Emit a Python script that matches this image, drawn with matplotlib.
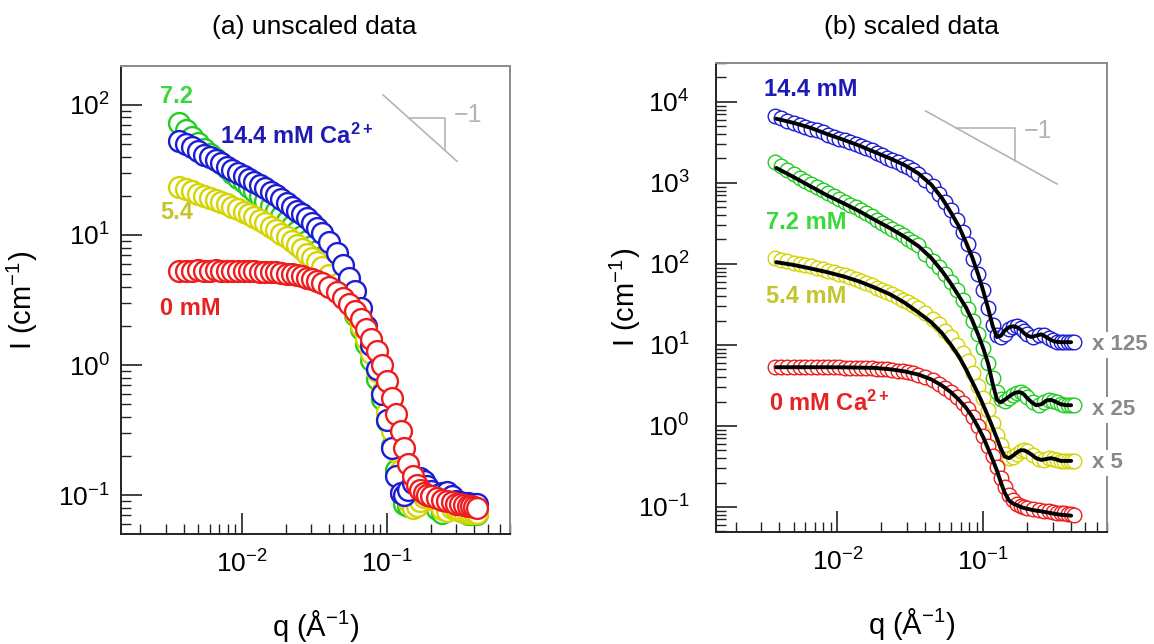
import numpy as np
import matplotlib
matplotlib.use('Agg')
import matplotlib.pyplot as plt
from matplotlib.ticker import LogLocator, NullFormatter

plt.rcParams['font.family'] = ['Liberation Sans', 'DejaVu Sans']
plt.rcParams['mathtext.fontset'] = 'custom'
plt.rcParams['mathtext.rm'] = 'Liberation Sans'
plt.rcParams['mathtext.it'] = 'Liberation Sans:italic'
plt.rcParams['mathtext.bf'] = 'Liberation Sans:bold'

# ---------------------------- data ----------------------------
Q = [0.0037, 0.0041, 0.0045, 0.0050, 0.0055, 0.0060, 0.0066, 0.0072, 0.0079, 0.0086,
     0.0094, 0.0103, 0.0112, 0.0122, 0.0133, 0.0145, 0.0158, 0.0172, 0.0187, 0.0203,
     0.0220, 0.0238, 0.0258, 0.0280, 0.0303, 0.0328, 0.0355,
     0.040, 0.045, 0.050, 0.055, 0.060, 0.066, 0.072, 0.078, 0.085, 0.092,
     0.100, 0.108, 0.116, 0.124, 0.132, 0.140, 0.150,
     0.16, 0.17, 0.18, 0.19, 0.20, 0.22, 0.24, 0.26, 0.28, 0.30,
     0.32, 0.34, 0.36, 0.38, 0.40, 0.42]

# unscaled intensities, cm^-1
I_0 = [5.3, 5.3, 5.3, 5.35, 5.3, 5.3, 5.35, 5.3, 5.3, 5.3,
       5.3, 5.3, 5.25, 5.25, 5.2, 5.2, 5.2, 5.15, 5.1, 5.05,
       5.0, 4.9, 4.8, 4.7, 4.6, 4.45, 4.3,
       4.0, 3.65, 3.3, 2.95, 2.6, 2.25, 1.9, 1.6, 1.28, 1.0,
       0.75, 0.56, 0.42, 0.31, 0.23, 0.175, 0.14,
       0.12, 0.11, 0.104, 0.1, 0.098, 0.095, 0.092, 0.09, 0.088, 0.086,
       0.085, 0.084, 0.083, 0.082, 0.081, 0.080]

I_54 = [23.5, 22.5, 21.6, 20.8, 20.0, 19.3, 18.6, 17.9, 17.2, 16.5,
        15.8, 15.1, 14.4, 13.7, 13.0, 12.3, 11.6, 10.9, 10.2, 9.6,
        9.0, 8.4, 7.8, 7.2, 6.7, 6.2, 5.7,
        4.9, 4.2, 3.6, 3.0, 2.5, 2.0, 1.6, 1.25, 0.9, 0.62,
        0.44, 0.31, 0.22, 0.155, 0.115, 0.09, 0.08,
        0.082, 0.09, 0.097, 0.1, 0.098, 0.088, 0.078, 0.076, 0.08, 0.079,
        0.076, 0.074, 0.073, 0.073, 0.073, 0.073]

I_72 = [72, 64, 57, 51, 46, 42, 38.5, 35.5, 32.5, 30,
        27.5, 25.3, 23.4, 21.6, 19.9, 18.3, 16.8, 15.4, 14.1, 12.9,
        11.8, 10.8, 9.9, 9.0, 8.2, 7.5, 6.8,
        5.3, 4.4, 3.65, 3.0, 2.42, 1.9, 1.45, 1.1, 0.78, 0.55,
        0.37, 0.24, 0.155, 0.105, 0.085, 0.082, 0.088,
        0.097, 0.103, 0.105, 0.1, 0.092, 0.078, 0.073, 0.078, 0.083, 0.082,
        0.078, 0.074, 0.072, 0.072, 0.072, 0.072]

I_144 = [53, 50, 47, 44, 41.5, 39.5, 37.5, 35.5, 33.5, 31.5,
         29.8, 28.2, 26.8, 25.4, 24.0, 22.8, 21.5, 20.2, 18.8, 17.5,
         16.4, 15.4, 14.4, 13.4, 12.4, 11.4, 10.4,
         8.8, 7.3, 5.9, 4.7, 3.7, 2.75, 2.0, 1.42, 0.93, 0.6,
         0.38, 0.23, 0.14, 0.105, 0.1, 0.11, 0.125,
         0.133, 0.135, 0.128, 0.118, 0.108, 0.1, 0.105, 0.106, 0.098, 0.091,
         0.088, 0.087, 0.087, 0.086, 0.086, 0.086]

SCALES = [1, 5, 25, 125]

# model fits, already scaled (panel b)
Q_FIT = [0.0038, 0.005, 0.0065, 0.0085, 0.011, 0.014, 0.018, 0.023, 0.029, 0.036,
         0.044, 0.052, 0.060, 0.068, 0.076, 0.084, 0.092, 0.100, 0.108, 0.116,
         0.124, 0.132, 0.140, 0.150, 0.160, 0.170, 0.180, 0.190, 0.200, 0.215,
         0.230, 0.250, 0.270, 0.290, 0.310, 0.340, 0.370, 0.400]

FIT_0 = [5.3, 5.3, 5.3, 5.3, 5.28, 5.25, 5.2, 5.0, 4.7, 4.3,
         3.75, 3.15, 2.6, 2.1, 1.68, 1.3, 0.97, 0.72, 0.52, 0.38,
         0.28, 0.2, 0.15, 0.12, 0.11, 0.105, 0.1, 0.097, 0.095, 0.092,
         0.09, 0.088, 0.086, 0.084, 0.082, 0.08, 0.079, 0.078]

FIT_54 = [105, 97, 88, 79, 70, 61, 51, 42, 33, 25,
          19, 14, 10, 7.2, 5.0, 3.5, 2.5, 1.8, 1.3, 0.95,
          0.7, 0.52, 0.42, 0.4, 0.43, 0.47, 0.5, 0.5, 0.48, 0.44,
          0.4, 0.38, 0.39, 0.4, 0.39, 0.37, 0.37, 0.37]

FIT_72 = [1530, 1180, 910, 700, 560, 450, 350, 275, 215, 165,
          118, 82, 57, 40, 29, 20, 13.5, 9, 5.8, 3.3,
          2.1, 1.95, 2.1, 2.3, 2.5, 2.6, 2.6, 2.45, 2.2, 1.95,
          1.8, 1.85, 2.05, 2.1, 2.0, 1.85, 1.8, 1.8]

FIT_144 = [6200, 5500, 4800, 4000, 3400, 2900, 2400, 2000, 1650, 1300,
           950, 650, 430, 290, 185, 120, 75, 46, 28, 17,
           12.5, 13, 15, 16.5, 17, 16.5, 15.5, 14, 13, 12.5,
           13, 13.5, 12.5, 11.5, 11, 10.8, 10.8, 10.8]

RED, YELLOW, GREEN, BLUE = '#ee1c1c', '#d4d400', '#22cc22', '#1c1cd4'
RED_T, YELLOW_T, GREEN_T, BLUE_T = '#e62222', '#c4c42c', '#3ad83a', '#1c1cb4'
GRAY = '#b4b4b4'

XLIM = (0.00147, 0.705)
LABEL_FS = 17


def style_axes(ax, ypad, ylab_x):
    ax.set_xscale('log')
    ax.set_yscale('log')
    ax.set_xlim(*XLIM)
    ax.xaxis.set_major_locator(LogLocator(base=10, numticks=10))
    ax.xaxis.set_minor_locator(LogLocator(base=10, subs=np.arange(2, 10), numticks=20))
    ax.yaxis.set_major_locator(LogLocator(base=10, numticks=10))
    ax.yaxis.set_minor_locator(LogLocator(base=10, subs=np.arange(2, 10), numticks=20))
    ax.xaxis.set_minor_formatter(NullFormatter())
    ax.yaxis.set_minor_formatter(NullFormatter())
    ax.tick_params(which='both', direction='in', top=False, right=False, color='#222222')
    ax.tick_params(which='major', length=15, width=1.2, labelsize=19)
    ax.tick_params(which='minor', length=7, width=1.0)
    ax.tick_params(axis='x', pad=12)
    ax.tick_params(axis='y', pad=ypad)
    for side in ['left', 'bottom']:
        ax.spines[side].set_color('#222222')
        ax.spines[side].set_linewidth(1.4)
    for side in ['top', 'right']:
        ax.spines[side].set_color('#8a8a8a')
        ax.spines[side].set_linewidth(1.4)
    ax.set_xlabel(r'q (Å$^{-1}$)', fontsize=21, labelpad=22)
    ax.set_ylabel(r'I (cm$^{-1}$)', fontsize=21)
    ax.yaxis.set_label_coords(ylab_x, 0.5)


def slope_triangle(ax, q0, i0, q1, q_leg, q_vert, text_xy):
    # gray guide line of slope -1 with a small step triangle
    qs = np.array([q0, q1])
    ax.plot(qs, i0 * q0 / qs, color=GRAY, lw=1.2)
    i_leg = i0 * q0 / q_leg
    ax.plot([q_leg, q_vert, q_vert], [i_leg, i_leg, i0 * q0 / q_vert], color=GRAY, lw=1.2)
    ax.text(text_xy[0], text_xy[1], '\u22121', color=GRAY, fontsize=18, ha='left', va='center')


fig = plt.figure(figsize=(11.54, 6.44), dpi=100)

# ----------------------------------- (a) unscaled ------------------------------------
ax1 = fig.add_axes([0.1049, 0.1708, 0.3371, 0.7267])
for vals, col in [(I_72, GREEN), (I_54, YELLOW), (I_144, BLUE), (I_0, RED)]:
    ax1.plot(Q, vals, 'o', ms=15, mfc='white', mec=col, mew=1.7)
ax1.set_ylim(0.0504, 198.6)
style_axes(ax1, 8, -0.208)
fig.text(0.272, 1 - 27 / 644, '(a) unscaled data', fontsize=19, ha='center', va='center')

ax1.text(0.00272, 115, '7.2', color=GREEN_T, fontsize=LABEL_FS, fontweight='bold', va='center')
ax1.text(0.00705, 57, r'14.4 mM Ca$^{\mathbf{2+}}$', color=BLUE_T, fontsize=LABEL_FS,
         fontweight='bold', va='center')
ax1.text(0.00272, 15, '5.4', color=YELLOW_T, fontsize=LABEL_FS, fontweight='bold', va='center')
ax1.text(0.00272, 2.72, '0 mM', color=RED_T, fontsize=LABEL_FS, fontweight='bold', va='center')
slope_triangle(ax1, 0.094, 119, 0.304, 0.1407, 0.251, (0.29, 84))

# ----------------------------------- (b) scaled ------------------------------------
ax2 = fig.add_axes([0.6205, 0.1739, 0.3388, 0.7283])
series = [(I_144, BLUE), (I_72, GREEN), (I_54, YELLOW), (I_0, RED)]
for (vals, col), s in zip(series, SCALES[::-1]):
    ax2.plot(Q, np.array(vals) * s, 'o', ms=10.5, mfc='white', mec=col, mew=1.0)
for fit in [FIT_144, FIT_72, FIT_54, FIT_0]:
    ax2.plot(Q_FIT, fit, color='black', lw=2.8, solid_capstyle='round')
ax2.set_ylim(0.049, 30200)
style_axes(ax2, 19, -0.187)
fig.text(0.79, 1 - 27 / 644, '(b) scaled data', fontsize=19, ha='center', va='center')

ax2.text(0.00311, 14070, '14.4 mM', color=BLUE_T, fontsize=LABEL_FS, fontweight='bold', va='center')
ax2.text(0.00321, 321, '7.2 mM', color=GREEN_T, fontsize=LABEL_FS, fontweight='bold', va='center')
ax2.text(0.00321, 39.2, '5.4 mM', color=YELLOW_T, fontsize=LABEL_FS, fontweight='bold', va='center')
ax2.text(0.00337, 1.92, r'0 mM Ca$^{\mathbf{2+}}$', color=RED_T, fontsize=LABEL_FS,
         fontweight='bold', va='center')
for lab, y in [('x 125', 10), ('x 25', 1.58), ('x 5', 0.35)]:
    ax2.text(0.558, y, lab, color='#8a8a8a', fontsize=16, fontweight='bold', va='center',
             ha='left', clip_on=False,
             bbox=dict(facecolor='white', edgecolor='none', pad=2))
slope_triangle(ax2, 0.0401, 7740, 0.321, 0.0649, 0.1655, (0.188, 4400))

fig.savefig('out.png', dpi=100)
